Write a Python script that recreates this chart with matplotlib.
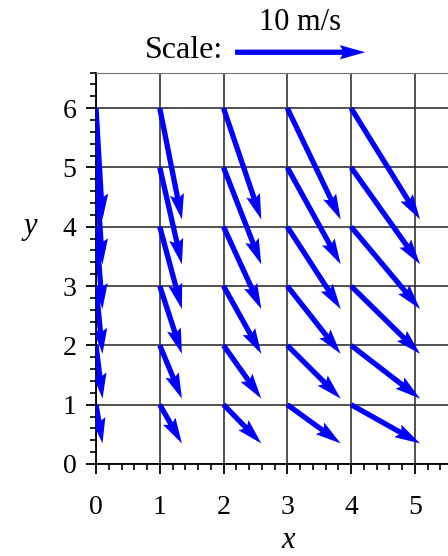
import numpy as np
import matplotlib.pyplot as plt
from matplotlib.ticker import MultipleLocator

# Grid points and velocity components (m/s)
x_pts = [0, 1, 2, 3, 4, 5]
y_pts = [1, 2, 3, 4, 5, 6]
u_cols = [0.5, 1.7, 2.9, 4.1, 5.3, 6.5]       # u for each column of x_pts
v_rows = [-3.2, -4.4, -5.6, -6.8, -8.0, -9.2]  # v for each row of y_pts
key_speed = 10

plt.rcParams['font.family'] = 'serif'
plt.rcParams['font.serif'] = ['Liberation Serif', 'DejaVu Serif']

X, Y = np.meshgrid(x_pts[:5], y_pts)
U, V = np.meshgrid(u_cols[:5], v_rows)

fig = plt.figure(figsize=(4.48, 5.56), dpi=100)
ax = fig.add_axes([0.2143, 0.1655, 0.79, 0.704])

ax.set_xlim(0, 5.55)
ax.set_ylim(0, 6.6)
ax.xaxis.set_major_locator(MultipleLocator(1))
ax.yaxis.set_major_locator(MultipleLocator(1))
ax.xaxis.set_minor_locator(MultipleLocator(0.2))
ax.yaxis.set_minor_locator(MultipleLocator(0.2))
ax.grid(True, which='major', color='0.2', lw=1.2)
ax.set_axisbelow(True)

ax.tick_params(which='major', length=7, width=1.3, labelsize=20, pad=7)
ax.tick_params(axis='x', which='major', pad=15)
ax.tick_params(which='minor', length=4.5, width=1.2)
ax.spines['right'].set_visible(False)
ax.spines['top'].set_color('0.45')
for s in ['left', 'bottom']:
    ax.spines[s].set_linewidth(1.3)

q = ax.quiver(X, Y, U, V, color='#0000ff', angles='xy', scale_units='xy',
              scale=4.9, width=0.015, headwidth=2.7, headlength=4.8,
              headaxislength=4.3, zorder=3)

ax.quiverkey(q, 0.67, 0.906, key_speed, '10 m/s', labelpos='N',
             coordinates='figure', labelsep=0.15,
             fontproperties={'family': 'serif', 'size': 22})
fig.text(0.497, 0.909, 'Scale:', ha='right', va='center', fontsize=23)

fig.text(0.067, 0.593, 'y', ha='center', va='center', fontsize=22,
         style='italic')
fig.text(0.643, 0.028, 'x', ha='center', va='center', fontsize=22,
         style='italic')

fig.savefig('out.png', dpi=100)
